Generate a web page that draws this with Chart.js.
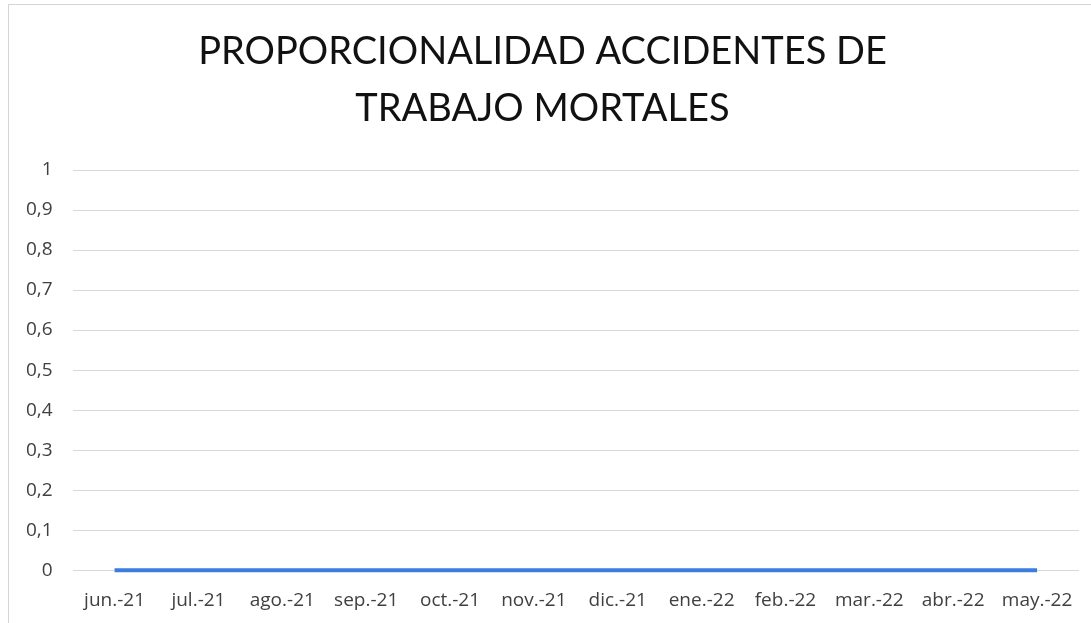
<!DOCTYPE html>
<html>
<head>
<meta charset="utf-8">
<script src="https://cdn.jsdelivr.net/npm/chart.js@4/dist/chart.umd.min.js"></script>
<style>
  html, body { margin: 0; padding: 0; background: #fff; }
  #marco { position: absolute; left: 8px; top: 4px; width: 1100px; height: 640px; border: 1px solid #d4d4d4; }
  #caja { position: absolute; left: 0; top: 0; width: 1091px; height: 623px; }
</style>
</head>
<body>
<div id="marco"></div>
<div id="caja"><canvas id="grafico"></canvas></div>
<script>
// Datos
const meses = ["jun.-21", "jul.-21", "ago.-21", "sep.-21", "oct.-21", "nov.-21",
  "dic.-21", "ene.-22", "feb.-22", "mar.-22", "abr.-22", "may.-22"];
const proporcion = [0, 0, 0, 0, 0, 0, 0, 0, 0, 0, 0, 0];
const titulo = ["PROPORCIONALIDAD ACCIDENTES DE", "TRABAJO MORTALES"];

const ctx = document.getElementById("grafico");
new Chart(ctx, {
  type: "line",
  data: {
    labels: meses,
    datasets: [
      {
        label: "Proporcionalidad",
        data: proporcion,
        borderColor: "#3b7ddd",
        borderWidth: 4,
        pointRadius: 0,
        fill: false,
        tension: 0,
        clip: false,
      },
    ],
  },
  options: {
    responsive: true,
    maintainAspectRatio: false,
    animation: false,
    layout: { padding: { left: 6, right: 12, top: 12, bottom: 0 } },
    plugins: {
      legend: { display: false },
      tooltip: { enabled: false },
      title: {
        display: true,
        text: titulo,
        color: "#111",
        font: { family: "Lato", size: 38, weight: "normal", lineHeight: 1.5 },
        padding: { top: 11, bottom: 33 },
      },
    },
    scales: {
      x: {
        offset: true,
        grid: { display: false },
        border: { display: false },
        ticks: {
          color: "#404040",
          font: { family: "Open Sans", size: 19 },
          padding: 11,
          maxRotation: 0,
          autoSkip: false,
        },
      },
      y: {
        min: 0,
        max: 1,
        grid: { color: "#d9d9d9", lineWidth: 1, drawTicks: false },
        border: { display: false },
        ticks: {
          stepSize: 0.1,
          color: "#404040",
          font: { family: "Open Sans", size: 19 },
          padding: 20,
          callback: (v) => (Math.round(v * 10) / 10).toString().replace(".", ","),
        },
      },
    },
  },
});
</script>
</body>
</html>
